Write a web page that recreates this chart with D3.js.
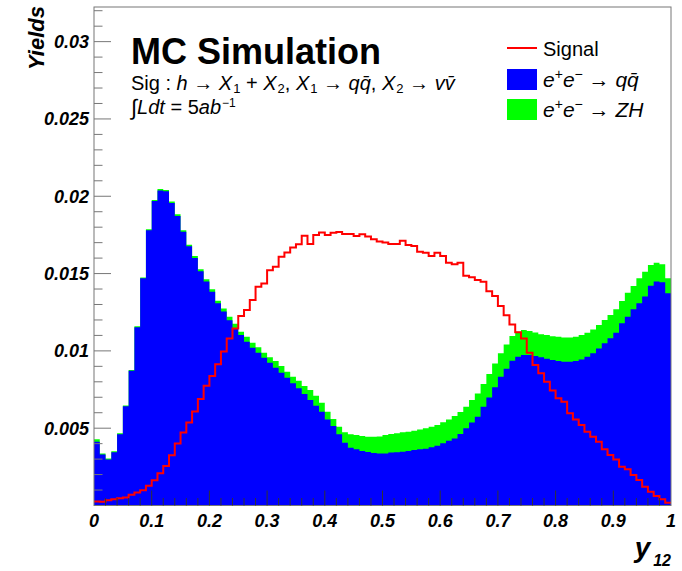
<!DOCTYPE html>
<html>
<head>
<meta charset="utf-8">
<script src="https://cdn.jsdelivr.net/npm/d3@7"></script>
<style>
  html, body { margin: 0; padding: 0; background: #fff; }
  svg { display: block; }
  text { font-family: "Liberation Sans", Arial, Helvetica, sans-serif; }
</style>
</head>
<body>
<svg id="chart" width="682" height="571"></svg>
<script>
// ---------------- data (100 bins on y12 in [0,1]) ----------------
const nBins = 100;
const xMin = 0, xMax = 1;

// e+e- -> qqbar (blue), per bin
const qqYields = [
  0.00412, 0.00330, 0.00297, 0.00345, 0.00461, 0.00642, 0.00871, 0.01153, 0.01470, 0.01780,
  0.01970, 0.02038, 0.02032, 0.01957, 0.01873, 0.01771, 0.01676, 0.01601, 0.01515, 0.01448,
  0.01382, 0.01308, 0.01254, 0.01198, 0.01145, 0.01102, 0.01059, 0.01021, 0.00988, 0.00956,
  0.00924, 0.00891, 0.00859, 0.00827, 0.00790, 0.00758, 0.00721, 0.00682, 0.00645, 0.00607,
  0.00557, 0.00514, 0.00460, 0.00406, 0.00374, 0.00363, 0.00352, 0.00346, 0.00340, 0.00337,
  0.00337, 0.00342, 0.00344, 0.00348, 0.00352, 0.00359, 0.00363, 0.00367, 0.00376, 0.00387,
  0.00402, 0.00419, 0.00434, 0.00462, 0.00499, 0.00536, 0.00574, 0.00639, 0.00699, 0.00764,
  0.00833, 0.00885, 0.00936, 0.00962, 0.00973, 0.00973, 0.00967, 0.00958, 0.00949, 0.00941,
  0.00934, 0.00930, 0.00930, 0.00934, 0.00945, 0.00962, 0.00984, 0.01016, 0.01049, 0.01081,
  0.01117, 0.01178, 0.01221, 0.01269, 0.01308, 0.01351, 0.01422, 0.01448, 0.01444, 0.01372
];

// e+e- -> ZH (green), stacked on top of qqbar
const zhYields = [
  0.00017, 0.00006, 0.00007, 0.00006, 0.00007, 0.00005, 0.00006, 0.00007, 0.00004, 0.00007,
  0.00006, 0.00009, 0.00009, 0.00009, 0.00011, 0.00009, 0.00011, 0.00013, 0.00013, 0.00015,
  0.00017, 0.00017, 0.00020, 0.00022, 0.00030, 0.00022, 0.00032, 0.00032, 0.00035, 0.00032,
  0.00034, 0.00043, 0.00043, 0.00038, 0.00043, 0.00049, 0.00052, 0.00065, 0.00065, 0.00058,
  0.00050, 0.00045, 0.00050, 0.00067, 0.00086, 0.00093, 0.00097, 0.00099, 0.00105, 0.00110,
  0.00119, 0.00120, 0.00123, 0.00125, 0.00125, 0.00125, 0.00129, 0.00132, 0.00134, 0.00133,
  0.00136, 0.00138, 0.00145, 0.00142, 0.00140, 0.00146, 0.00151, 0.00147, 0.00151, 0.00155,
  0.00151, 0.00157, 0.00160, 0.00162, 0.00162, 0.00155, 0.00152, 0.00150, 0.00153, 0.00154,
  0.00157, 0.00157, 0.00157, 0.00157, 0.00157, 0.00155, 0.00155, 0.00151, 0.00151, 0.00151,
  0.00152, 0.00145, 0.00155, 0.00150, 0.00161, 0.00161, 0.00133, 0.00122, 0.00117, 0.00097
];

// Signal (red line)
const signalYields = [
  0.00026, 0.00024, 0.00034, 0.00041, 0.00047, 0.00052, 0.00069, 0.00084, 0.00099, 0.00127,
  0.00164, 0.00209, 0.00256, 0.00325, 0.00401, 0.00472, 0.00537, 0.00608, 0.00688, 0.00774,
  0.00838, 0.00914, 0.00996, 0.01080, 0.01144, 0.01225, 0.01264, 0.01329, 0.01415, 0.01436,
  0.01522, 0.01544, 0.01609, 0.01637, 0.01669, 0.01689, 0.01745, 0.01691, 0.01749, 0.01766,
  0.01749, 0.01764, 0.01769, 0.01756, 0.01756, 0.01743, 0.01754, 0.01739, 0.01722, 0.01707,
  0.01701, 0.01692, 0.01692, 0.01713, 0.01685, 0.01678, 0.01641, 0.01635, 0.01613, 0.01635,
  0.01613, 0.01570, 0.01561, 0.01570, 0.01486, 0.01476, 0.01458, 0.01447, 0.01386, 0.01355,
  0.01290, 0.01230, 0.01170, 0.01120, 0.01080, 0.00988, 0.00908, 0.00855, 0.00801, 0.00743,
  0.00693, 0.00671, 0.00596, 0.00557, 0.00520, 0.00477, 0.00445, 0.00413, 0.00363, 0.00326,
  0.00298, 0.00251, 0.00234, 0.00197, 0.00165, 0.00122, 0.00089, 0.00061, 0.00040, 0.00018
];

const yTickValues = [0.005, 0.01, 0.015, 0.02, 0.025, 0.03];
const yTickLabels = ["0.005", "0.01", "0.015", "0.02", "0.025", "0.03"];
const xTickValues = [0, 0.1, 0.2, 0.3, 0.4, 0.5, 0.6, 0.7, 0.8, 0.9, 1];
const xTickLabels = ["0", "0.1", "0.2", "0.3", "0.4", "0.5", "0.6", "0.7", "0.8", "0.9", "1"];
const legendLabels = ["Signal", "qq", "ZH"];

// ---------------- layout ----------------
const svg = d3.select("#chart");
const frame = { left: 94, right: 671, top: 7, bottom: 505.5 };
const yMaxVal = 0.03224;

const x = d3.scaleLinear().domain([xMin, xMax]).range([frame.left, frame.right]);
const y = d3.scaleLinear().domain([0, yMaxVal]).range([frame.bottom, frame.top]);

const binW = (xMax - xMin) / nBins;
const bins = d3.range(nBins).map(i => ({
  lo: xMin + i * binW,
  qq: qqYields[i],
  tot: qqYields[i] + zhYields[i],
  sig: signalYields[i]
}));
const stepData = bins.concat([{ lo: xMax, qq: qqYields[nBins - 1], tot: qqYields[nBins - 1] + zhYields[nBins - 1], sig: signalYields[nBins - 1] }]);

svg.append("rect").attr("width", 682).attr("height", 571).attr("fill", "#fff");

const areaTot = d3.area().curve(d3.curveStepAfter)
  .x(d => x(d.lo)).y0(y(0)).y1(d => y(d.tot));
const areaQQ = d3.area().curve(d3.curveStepAfter)
  .x(d => x(d.lo)).y0(y(0)).y1(d => y(d.qq));
const lineSig = d3.line().curve(d3.curveStepAfter)
  .x(d => x(d.lo)).y(d => y(d.sig));

svg.append("path").attr("d", areaTot(stepData)).attr("fill", "#00ff00");
svg.append("path").attr("d", areaQQ(stepData)).attr("fill", "#0000ff");
svg.append("path").attr("d", lineSig(stepData)).attr("fill", "none")
  .attr("stroke", "#ff0000").attr("stroke-width", 2);

// ---------------- frame & ticks ----------------
const axisColor = "#777";
svg.append("rect")
  .attr("x", frame.left).attr("y", frame.top)
  .attr("width", frame.right - frame.left).attr("height", frame.bottom - frame.top)
  .attr("fill", "none").attr("stroke", axisColor).attr("stroke-width", 1);

const yMinor = d3.range(1, 33).map(k => k * 0.001).filter(v => v <= yMaxVal);
svg.append("g").selectAll("line").data(yMinor).join("line")
  .attr("x1", frame.left).attr("x2", d => frame.left + (Math.abs(d / 0.005 - Math.round(d / 0.005)) < 1e-6 ? 17 : 8.5))
  .attr("y1", d => y(d)).attr("y2", d => y(d))
  .attr("stroke", axisColor).attr("stroke-width", 1);

const xMinor = d3.range(1, 50).map(k => k * 0.02);
svg.append("g").selectAll("line").data(xMinor).join("line")
  .attr("x1", d => x(d)).attr("x2", d => x(d))
  .attr("y1", frame.bottom)
  .attr("y2", d => frame.bottom - (Math.abs(d / 0.1 - Math.round(d / 0.1)) < 1e-6 ? 15 : 7.5))
  .attr("stroke", "#333").attr("stroke-width", 1);

const labelFont = "bold italic 18px 'Liberation Sans', Arial, sans-serif";
svg.append("g").selectAll("text").data(yTickValues).join("text")
  .attr("x", 89).attr("y", d => y(d) + 6.5)
  .attr("text-anchor", "end")
  .style("font", labelFont)
  .text((d, i) => yTickLabels[i]);

svg.append("g").selectAll("text").data(xTickValues).join("text")
  .attr("x", d => x(d)).attr("y", 527)
  .attr("text-anchor", "middle")
  .style("font", labelFont)
  .text((d, i) => xTickLabels[i]);

svg.append("text")
  .attr("transform", "translate(44,6) rotate(-90)")
  .attr("text-anchor", "end")
  .style("font", "bold italic 22px 'Liberation Sans', Arial, sans-serif")
  .text("Yields");

const xt = svg.append("text")
  .attr("x", 671).attr("y", 557)
  .attr("text-anchor", "end")
  .style("font", "bold italic 28px 'Liberation Sans', Arial, sans-serif");
xt.append("tspan").text("y");
xt.append("tspan").attr("dx", 3).attr("dy", 9).style("font-size", "16px").text("12");

// ---------------- annotation text ----------------
svg.append("text").attr("x", 131).attr("y", 64)
  .style("font", "bold 36px 'Liberation Sans', Arial, sans-serif")
  .text("MC Simulation");

function seg(t, s, opts = {}) {
  const ts = t.append("tspan").text(s);
  if (opts.it) ts.style("font-style", "italic");
  if (opts.dy) ts.attr("dy", opts.dy);
  if (opts.dx) ts.attr("dx", opts.dx);
  if (opts.size) ts.style("font-size", opts.size);
  return ts;
}

const t2 = svg.append("text").attr("x", 131).attr("y", 90)
  .style("font-size", "20px");
seg(t2, "Sig : ");
seg(t2, "h", { it: true });
seg(t2, " \u2192  ");
seg(t2, "X", { it: true });
seg(t2, "1", { dy: 3, dx: 1, size: "13px" });
seg(t2, " + ", { dy: -3 });
seg(t2, "X", { it: true });
seg(t2, "2", { dy: 3, dx: 1, size: "13px" });
seg(t2, ", ", { dy: -3 });
seg(t2, "X", { it: true });
seg(t2, "1", { dy: 3, dx: 1, size: "13px" });
seg(t2, "  \u2192  ", { dy: -3 });
seg(t2, "qq\u0304", { it: true });
seg(t2, ", ");
seg(t2, "X", { it: true });
seg(t2, "2", { dy: 3, dx: 1, size: "13px" });
seg(t2, "  \u2192  ", { dy: -3 });
seg(t2, "vv\u0304", { it: true });

const t3 = svg.append("text").attr("x", 131).attr("y", 114).style("font-size", "20px");
seg(t3, "\u222B", { size: "22px", dy: 1 });
seg(t3, "Ldt", { it: true, dy: -1 });
seg(t3, " = 5");
seg(t3, "ab", { it: true });
seg(t3, "\u22121", { dy: -7, dx: 1, size: "12px" });

// ---------------- legend ----------------
const lg = svg.append("g");
lg.append("line").attr("x1", 507).attr("x2", 537).attr("y1", 48).attr("y2", 48)
  .attr("stroke", "#ff0000").attr("stroke-width", 2);
lg.append("text").attr("x", 543).attr("y", 56).style("font-size", "20px").text(legendLabels[0]);

lg.append("rect").attr("x", 507).attr("y", 69).attr("width", 30).attr("height", 21).attr("fill", "#0000ff");
const l2 = lg.append("text").attr("x", 543).attr("y", 87).style("font-size", "21px");
seg(l2, "e", { it: true });
seg(l2, "+", { dy: -8, size: "14px" });
seg(l2, "e", { it: true, dy: 8 });
seg(l2, "\u2212", { dy: -8, size: "14px" });
seg(l2, "  \u2192  ", { dy: 8 });
seg(l2, "qq\u0304", { it: true });

lg.append("rect").attr("x", 507).attr("y", 99).attr("width", 30).attr("height", 21).attr("fill", "#00ff00");
const l3 = lg.append("text").attr("x", 543).attr("y", 117).style("font-size", "21px");
seg(l3, "e", { it: true });
seg(l3, "+", { dy: -8, size: "14px" });
seg(l3, "e", { it: true, dy: 8 });
seg(l3, "\u2212", { dy: -8, size: "14px" });
seg(l3, "  \u2192  ", { dy: 8 });
seg(l3, "ZH", { it: true });
</script>
</body>
</html>
